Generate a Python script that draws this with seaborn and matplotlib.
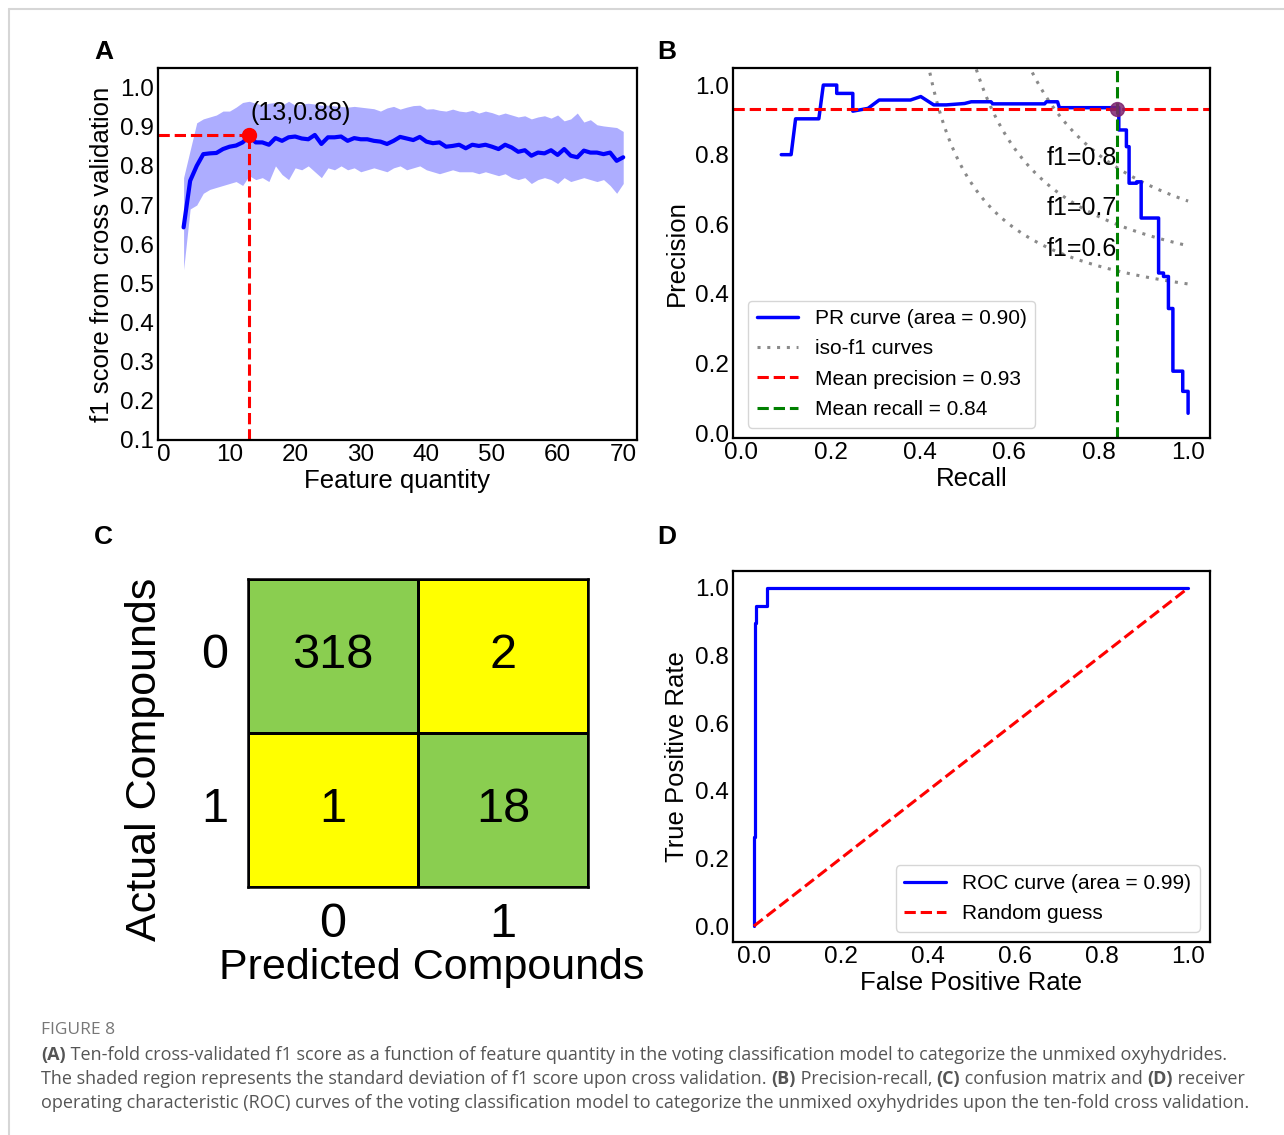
import numpy as np
import matplotlib
matplotlib.use("Agg")
import matplotlib.pyplot as plt
import seaborn as sns
from matplotlib.colors import ListedColormap
from matplotlib.lines import Line2D

# ---- panel A: f1 score vs feature quantity ----
feature_qty = list(range(3, 71))
f1_mean = [0.643, 0.762, 0.800, 0.830, 0.832, 0.833, 0.843, 0.849, 0.852, 0.860,
           0.876, 0.860, 0.860, 0.854, 0.871, 0.864, 0.873, 0.875, 0.870, 0.868,
           0.879, 0.856, 0.873, 0.873, 0.875, 0.864, 0.871, 0.868, 0.868, 0.864,
           0.862, 0.856, 0.864, 0.874, 0.870, 0.866, 0.874, 0.862, 0.858, 0.860,
           0.849, 0.851, 0.854, 0.845, 0.854, 0.851, 0.854, 0.849, 0.843, 0.854,
           0.847, 0.836, 0.840, 0.826, 0.834, 0.832, 0.840, 0.828, 0.843, 0.826,
           0.822, 0.839, 0.834, 0.834, 0.830, 0.834, 0.813, 0.822]
f1_upper = [0.770, 0.840, 0.910, 0.920, 0.925, 0.930, 0.940, 0.940, 0.950, 0.962,
            0.965, 0.960, 0.955, 0.960, 0.962, 0.955, 0.965, 0.955, 0.958, 0.960,
            0.958, 0.955, 0.955, 0.953, 0.952, 0.950, 0.952, 0.950, 0.948, 0.946,
            0.940, 0.948, 0.952, 0.945, 0.950, 0.954, 0.955, 0.945, 0.946, 0.942,
            0.940, 0.945, 0.940, 0.938, 0.942, 0.935, 0.940, 0.936, 0.930, 0.935,
            0.930, 0.925, 0.928, 0.920, 0.925, 0.928, 0.922, 0.930, 0.915, 0.920,
            0.935, 0.912, 0.918, 0.905, 0.902, 0.900, 0.898, 0.888]
f1_lower = [0.535, 0.690, 0.700, 0.730, 0.740, 0.745, 0.750, 0.755, 0.760, 0.750,
            0.775, 0.765, 0.770, 0.760, 0.800, 0.778, 0.765, 0.795, 0.790, 0.800,
            0.785, 0.770, 0.795, 0.790, 0.800, 0.790, 0.795, 0.785, 0.790, 0.795,
            0.790, 0.785, 0.795, 0.800, 0.790, 0.795, 0.800, 0.790, 0.785, 0.780,
            0.785, 0.790, 0.785, 0.785, 0.785, 0.780, 0.785, 0.780, 0.775, 0.780,
            0.770, 0.765, 0.770, 0.755, 0.765, 0.770, 0.765, 0.755, 0.770, 0.760,
            0.765, 0.770, 0.765, 0.760, 0.765, 0.750, 0.730, 0.755]
best_n, best_f1 = 13, 0.88

# ---- panel B: precision-recall ----
pr_recall = [0.090, 0.112, 0.122, 0.174, 0.184, 0.214, 0.214, 0.250, 0.250, 0.284,
             0.309, 0.379, 0.402, 0.431, 0.459, 0.500, 0.515, 0.559, 0.563, 0.679,
             0.683, 0.708, 0.712, 0.845, 0.845, 0.862, 0.862, 0.868, 0.868, 0.885,
             0.885, 0.895, 0.895, 0.934, 0.934, 0.945, 0.945, 0.956, 0.956, 0.966,
             0.966, 0.988, 0.988, 1.000, 1.000]
pr_precision = [0.800, 0.800, 0.903, 0.903, 1.000, 1.000, 0.976, 0.976, 0.925, 0.933,
                0.957, 0.957, 0.967, 0.943, 0.943, 0.947, 0.952, 0.952, 0.946, 0.946,
                0.952, 0.952, 0.935, 0.935, 0.871, 0.871, 0.823, 0.823, 0.718, 0.718,
                0.722, 0.722, 0.618, 0.618, 0.460, 0.460, 0.450, 0.450, 0.358, 0.358,
                0.178, 0.178, 0.120, 0.120, 0.057]
iso_f1_levels = [0.6, 0.7, 0.8]
iso_label_y = [0.508, 0.627, 0.771]
pr_area = 0.90
mean_precision = 0.93
mean_recall = 0.84

# ---- panel C: confusion matrix ----
cm_values = [[318, 2], [1, 18]]
cm_classes = ["0", "1"]

# ---- panel D: ROC ----
roc_fpr = [0.0, 0.0, 0.003, 0.003, 0.006, 0.006, 0.031, 0.031, 1.0]
roc_tpr = [0.0, 0.263, 0.263, 0.895, 0.895, 0.947, 0.947, 1.0, 1.0]
roc_area = 0.99

sns.set_style("white", {"axes.edgecolor": "black", "xtick.color": "black",
                        "ytick.color": "black", "axes.labelcolor": "black",
                        "text.color": "black"})
plt.rcParams["font.family"] = ["Liberation Sans", "DejaVu Sans"]

W, H = 1284, 1135
fig = plt.figure(figsize=(W / 100, H / 100), dpi=100)


def px_axes(left, top, right, bottom):
    return fig.add_axes([left / W, (H - bottom) / H, (right - left) / W, (bottom - top) / H])


def style_axes(ax):
    for s in ax.spines.values():
        s.set_linewidth(1.6)
        s.set_color("black")
        s.set_visible(True)
    ax.tick_params(direction="in", length=6.5, width=1.5, labelsize=17.5, pad=3,
                   top=False, right=False)


LAB = 18.5

# Panel A
axA = px_axes(158, 68, 637, 440)
axA.fill_between(feature_qty, f1_lower, f1_upper, color="blue", alpha=0.32, lw=0)
sns.lineplot(x=feature_qty, y=f1_mean, ax=axA, color="blue", lw=3)
axA.set_xlim(-0.9, 72.1)
axA.set_ylim(0.1, 1.05)
axA.hlines(best_f1, -0.9, best_n, colors="red", linestyles="--", lw=2.2)
axA.vlines(best_n, 0.1, best_f1, colors="red", linestyles="--", lw=2.2)
axA.plot(best_n, best_f1, "o", color="red", ms=10)
axA.text(best_n + 0.2, best_f1 + 0.055, f"({best_n},{best_f1})", fontsize=18,
         ha="left", va="center")
axA.set_xticks(range(0, 71, 10))
axA.set_yticks(np.arange(0.1, 1.01, 0.1))
axA.set_yticklabels([f"{v:.1f}" for v in np.arange(0.1, 1.01, 0.1)])
axA.set_xlabel("Feature quantity", fontsize=LAB, labelpad=2)
axA.set_ylabel("f1 score from cross validation", fontsize=LAB, labelpad=4)
style_axes(axA)

# Panel B
axB = px_axes(733, 68, 1210, 438)
for i, f in enumerate(iso_f1_levels):
    r = np.linspace(0.01, 1, 200)
    p = f * r / (2 * r - f)
    keep = (p >= 0) & (p <= 1.2)
    axB.plot(r[keep], p[keep], color="#8a8a8a", ls=(0, (1, 2.2)), lw=2.2,
             label="iso-f1 curves" if i == 0 else None)
    axB.text(0.683, iso_label_y[i], f"f1={f:.1f}", fontsize=18, va="baseline")
sns.lineplot(x=pr_recall, y=pr_precision, ax=axB, sort=False, estimator=None,
             color="blue", lw=2.5, label=f"PR curve (area = {pr_area:.2f})")
axB.axhline(mean_precision, color="red", ls="--", lw=2.2,
            label=f"Mean precision = {mean_precision:.2f}")
axB.axvline(mean_recall, color="green", ls="--", lw=2.2,
            label=f"Mean recall = {mean_recall:.2f}")
axB.plot(mean_recall, mean_precision, "o", color="#7d2470", ms=10, alpha=0.85)
axB.set_xlim(-0.018, 1.049)
axB.set_ylim(-0.014, 1.049)
axB.set_xticks(np.arange(0, 1.01, 0.2))
axB.set_yticks(np.arange(0, 1.01, 0.2))
axB.set_xticklabels([f"{v:.1f}" for v in np.arange(0, 1.01, 0.2)])
axB.set_yticklabels([f"{v:.1f}" for v in np.arange(0, 1.01, 0.2)])
axB.set_xlabel("Recall", fontsize=LAB, labelpad=2)
axB.set_ylabel("Precision", fontsize=LAB, labelpad=4)
h, l = axB.get_legend_handles_labels()
order = [l.index(f"PR curve (area = {pr_area:.2f})"), l.index("iso-f1 curves"),
         l.index(f"Mean precision = {mean_precision:.2f}"),
         l.index(f"Mean recall = {mean_recall:.2f}")]
axB.legend([h[k] for k in order], [l[k] for k in order], loc="lower left",
           bbox_to_anchor=(0.01, 0.0), fontsize=15, labelspacing=0.55)
style_axes(axB)

# Panel C
axC = px_axes(248, 579, 588, 887)
is_diag = np.eye(len(cm_classes))
sns.heatmap(is_diag, ax=axC, cmap=ListedColormap(["#FFFF00", "#8ACE50"]),
            annot=np.array(cm_values), fmt="d", cbar=False, linewidths=1.8,
            linecolor="black", annot_kws={"fontsize": 35, "color": "black"},
            xticklabels=cm_classes, yticklabels=cm_classes)
for s in axC.spines.values():
    s.set_visible(True)
    s.set_linewidth(1.8)
    s.set_color("black")
axC.tick_params(length=0, labelsize=35)
axC.tick_params(axis="y", pad=14, rotation=0)
axC.tick_params(axis="x", pad=11)
axC.set_xlabel("")
axC.set_ylabel("")
axC.text(0.541, -0.263, "Predicted Compounds", fontsize=31, ha="center", va="center",
         transform=axC.transAxes)
axC.text(-0.303, 0.4156, "Actual Compounds", fontsize=31, ha="center", va="center",
         rotation=90, transform=axC.transAxes)

# Panel D
axD = px_axes(733, 571, 1210, 942)
sns.lineplot(x=roc_fpr, y=roc_tpr, ax=axD, sort=False, estimator=None, color="blue",
             lw=2.3, label=f"ROC curve (area = {roc_area:.2f})")
axD.plot([0, 1], [0, 1], color="red", ls="--", lw=2.2, label="Random guess")
axD.set_xlim(-0.048, 1.05)
axD.set_ylim(-0.047, 1.05)
axD.set_xticks(np.arange(0, 1.01, 0.2))
axD.set_yticks(np.arange(0, 1.01, 0.2))
axD.set_xticklabels([f"{v:.1f}" for v in np.arange(0, 1.01, 0.2)])
axD.set_yticklabels([f"{v:.1f}" for v in np.arange(0, 1.01, 0.2)])
axD.set_xlabel("False Positive Rate", fontsize=LAB, labelpad=2)
axD.set_ylabel("True Positive Rate", fontsize=LAB, labelpad=4)
axD.legend(loc="lower right", fontsize=15, labelspacing=0.55)
style_axes(axD)

# panel letters
for letter, (x, y) in {"A": (104, 52), "B": (667, 52), "C": (103, 537), "D": (667, 537)}.items():
    fig.text(x / W, 1 - y / H, letter, fontsize=19, fontweight="bold", ha="center", va="center")

# page frame
fig.add_artist(Line2D([9 / W, 1], [1 - 9 / H, 1 - 9 / H], color="#d6d6d6", lw=1.5))
fig.add_artist(Line2D([9 / W, 9 / W], [0, 1 - 9 / H], color="#d6d6d6", lw=1.5))

# caption
cap_font = ["Open Sans", "DejaVu Sans"]
fig.text(41 / W, 1 - 1030 / H, "FIGURE 8", fontsize=12.5, color="#777777",
         family=cap_font, va="center")
lines = [
    [("(A)", True), (" Ten-fold cross-validated f1 score as a function of feature quantity in the voting classification model to categorize the unmixed oxyhydrides.", False)],
    [("The shaded region represents the standard deviation of f1 score upon cross validation. ", False), ("(B)", True),
     (" Precision-recall, ", False), ("(C)", True), (" confusion matrix and ", False), ("(D)", True), (" receiver", False)],
    [("operating characteristic (ROC) curves of the voting classification model to categorize the unmixed oxyhydrides upon the ten-fold cross validation.", False)],
]
renderer = fig.canvas.get_renderer()


def draw_line(parts, y, size):
    x = 41 / W
    arts = []
    for txt, bold in parts:
        t = fig.text(x, y, txt, fontsize=size, color="#555555", family=cap_font,
                     fontweight="bold" if bold else "normal", va="center")
        bb = t.get_window_extent(renderer)
        x = bb.x1 / W
        arts.append(t)
    return arts, x * W - 41


probe, width = draw_line(lines[0], 0.5, 12)
for t in probe:
    t.remove()
cap_size = 12 * 1178 / width
for parts, yc in zip(lines, [1055, 1079, 1103]):
    draw_line(parts, 1 - yc / H, cap_size)

fig.savefig("out.png", dpi=100)
